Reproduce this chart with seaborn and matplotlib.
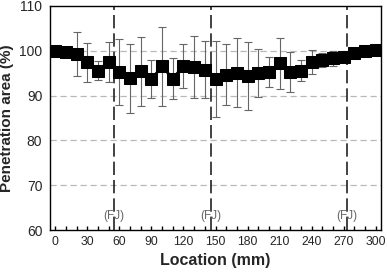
import numpy as np
import pandas as pd
import matplotlib
matplotlib.use("Agg")
import matplotlib.pyplot as plt
import seaborn as sns

# 측정 위치 (mm)
location = [0, 10, 20, 30, 40, 50, 60, 70, 80, 90, 100, 110, 120, 130, 140, 150,
            160, 170, 180, 190, 200, 210, 220, 230, 240, 250, 260, 270, 280, 290, 300]
# 용입 면적 평균 (%)
area = [100.0, 99.8, 99.2, 97.4, 95.6, 97.5, 95.3, 93.9, 95.4, 93.7, 96.5, 93.8,
        96.6, 96.3, 95.8, 93.7, 94.7, 95.1, 94.4, 95.0, 95.3, 97.2, 95.3, 95.6,
        97.5, 97.9, 98.3, 98.7, 99.5, 99.9, 100.1]
# 표준편차
err = [0, 0, 4.9, 4.4, 2.2, 4.5, 7.4, 7.7, 7.7, 4.3, 8.9, 4.6, 4.9, 6.9, 6.4, 8.5,
       6.9, 7.7, 7.6, 5.4, 3.3, 5.7, 4.4, 2.3, 2.7, 1.6, 1.6, 0, 0, 0, 0]
# FJ 위치
fj_pos = [55, 146, 273]

df = pd.DataFrame({'Location': location, 'Area': area, 'Err': err})

sns.set_style("white")
plt.rcParams['font.family'] = ['Liberation Sans', 'DejaVu Sans']

fig, ax = plt.subplots(figsize=(3.87, 2.73), dpi=100)
fig.subplots_adjust(left=50/387, right=381/387, top=1-6/273, bottom=1-230/273)

# 가로 그리드 (점선)
for y in [70, 80, 90, 100]:
    ax.axhline(y, color='#b8b8b8', ls=(0, (5, 3)), lw=0.9, zorder=0)

# FJ 세로선
for x in fj_pos:
    ax.axvline(x, color='#222222', ls=(0, (8, 3)), lw=1.2, zorder=1)
    ax.text(x, 61.8, '(FJ)', ha='center', va='bottom', fontsize=8.5, color='#666666')

# 에러바
ax.errorbar(df['Location'], df['Area'], yerr=df['Err'], fmt='none',
            ecolor='#666666', elinewidth=0.8, capsize=3, capthick=0.8, zorder=2)

sns.lineplot(data=df, x='Location', y='Area', marker='s', markersize=9,
             color='black', lw=2, markeredgecolor='black', ax=ax, zorder=3)

ax.set_xlim(-5, 305)
ax.set_ylim(60, 110)
ax.set_xticks(np.arange(0, 301, 30))
ax.set_xticks(np.arange(0, 301, 10), minor=True)
ax.set_yticks([60, 70, 80, 90, 100, 110])
ax.tick_params(axis='x', which='both', direction='in', length=3, width=1,
               bottom=True, labelsize=8.8, pad=4, color='black')
ax.tick_params(axis='y', left=False, labelsize=10, pad=2)

for s in ax.spines.values():
    s.set_color('black')
    s.set_linewidth(1)

ax.set_xlabel('Location (mm)', fontsize=11.5, fontweight='bold', labelpad=4)
ax.set_ylabel('Penetration area (%)', fontsize=11, fontweight='bold', labelpad=4)

fig.savefig('out.png', dpi=100)
